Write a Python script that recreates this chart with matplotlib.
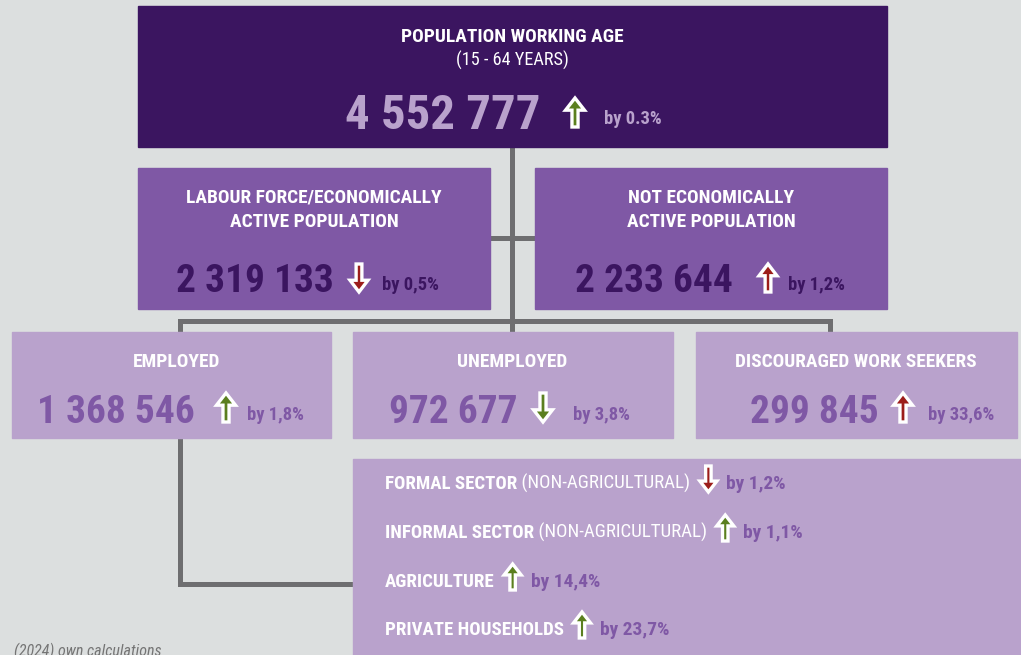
import os
import matplotlib
matplotlib.use('Agg')
import matplotlib.pyplot as plt
from matplotlib import font_manager as fm
from matplotlib.patches import Rectangle, Polygon

BG = '#dcdfdf'
DARK = '#3b1560'
MID = '#7f58a5'
LIGHT = '#b9a2cc'
LINE = '#6e6e70'
GOOD = '#5b7f1f'
BAD = '#9c1d1a'

# data
top_title = 'POPULATION WORKING AGE'
top_sub = '(15 - 64 YEARS)'
top_value = '4 552 777'
top_dir = 'up'
top_tone = 'good'
top_change = 'by 0.3%'

mid_titles = ['LABOUR FORCE/ECONOMICALLY\nACTIVE POPULATION', 'NOT ECONOMICALLY\nACTIVE POPULATION']
mid_values = ['2 319 133', '2 233 644']
mid_dirs = ['down', 'up']
mid_tones = ['bad', 'bad']
mid_changes = ['by 0,5%', 'by 1,2%']

low_titles = ['EMPLOYED', 'UNEMPLOYED', 'DISCOURAGED WORK SEEKERS']
low_values = ['1 368 546', '972 677', '299 845']
low_dirs = ['up', 'down', 'up']
low_tones = ['good', 'good', 'bad']
low_changes = ['by 1,8%', 'by 3,8%', 'by 33,6%']

sector_names = ['FORMAL SECTOR', 'INFORMAL SECTOR', 'AGRICULTURE', 'PRIVATE HOUSEHOLDS']
sector_notes = [' (NON-AGRICULTURAL)', ' (NON-AGRICULTURAL)', '', '']
sector_dirs = ['down', 'up', 'up', 'up']
sector_tones = ['bad', 'good', 'good', 'good']
sector_changes = ['by 1,2%', 'by 1,1%', 'by 14,4%', 'by 23,7%']

source_note = '(2024) own calculations'

tone_col = {'good': GOOD, 'bad': BAD}

# look for a condensed face, else plain Roboto
files = {os.path.basename(f.fname): f.fname for f in fm.fontManager.ttflist}
choices = [
    ('LiberationSansNarrow-Bold.ttf', 'LiberationSansNarrow-Regular.ttf', 'LiberationSansNarrow-Italic.ttf'),
    ('RobotoCondensed-Bold.ttf', 'RobotoCondensed-Regular.ttf', 'RobotoCondensed-Italic.ttf'),
    ('NotoSans-CondensedBold.ttf', 'NotoSans-Condensed.ttf', 'NotoSans-CondensedItalic.ttf'),
    ('DejaVuSansCondensed-Bold.ttf', 'DejaVuSansCondensed.ttf', 'DejaVuSansCondensed-Oblique.ttf'),
]
BOLD = dict(family='Roboto', weight='bold')
REG = dict(family='Roboto')
ITAL = dict(family='Roboto', style='italic')
for b, rg, it in choices:
    if b in files and rg in files:
        BOLD = dict(fontproperties=fm.FontProperties(fname=files[b]))
        REG = dict(fontproperties=fm.FontProperties(fname=files[rg]))
        if it in files:
            ITAL = dict(fontproperties=fm.FontProperties(fname=files[it]))
        break

fig = plt.figure(figsize=(10.21, 6.55), dpi=100)
fig.patch.set_facecolor(BG)
ax = fig.add_axes([0, 0, 1, 1])
ax.set_xlim(0, 1021)
ax.set_ylim(655, 0)
ax.axis('off')
r = fig.canvas.get_renderer()


def fit(s, width, font):
    # font size that gives the string the width seen in the reference
    t = ax.text(0, 0, s, fontsize=20, **font)
    w = t.get_window_extent(renderer=r).width
    t.remove()
    return 20 * width / w


def arrow(cx, top, h, w, d, col):
    hh = h * 0.42
    s = w * 0.32
    pts = [(cx, 0), (cx + w / 2, hh), (cx + s / 2, hh), (cx + s / 2, h),
           (cx - s / 2, h), (cx - s / 2, hh), (cx - w / 2, hh)]
    if d == 'down':
        pts = [(x, h - y) for x, y in pts]
    pts = [(x, y + top) for x, y in pts]
    ax.add_patch(Polygon(pts, closed=True, facecolor=col, edgecolor='white',
                         lw=2.4, joinstyle='miter', zorder=5))


def run(x, y, s, **kw):
    t = ax.text(x, y, s, va='baseline', ha='left', zorder=6, **kw)
    bb = t.get_window_extent(renderer=r)
    return ax.transData.inverted().transform((bb.x1, bb.y0))[0]


fs_title = fit('DISCOURAGED WORK SEEKERS', 242, BOLD)
fs_sub = fit(top_sub, 113, REG)
fs_top = fit(top_value, 195, BOLD)
fs_num = fit('1 368 546', 158, BOLD)
fs_by = fit('by 33,6%', 66, BOLD)
fs_sec = fit('FORMAL SECTOR', 132, BOLD)

# connectors
lk = dict(color=LINE, lw=3.6, solid_capstyle='butt', solid_joinstyle='miter', zorder=1)
ax.plot([512, 512], [147, 332], **lk)
ax.plot([490, 535], [237.5, 237.5], **lk)
ax.plot([180, 180, 830, 830], [332, 321, 321, 332], **lk)
ax.plot([180, 180, 353], [438, 584, 584], **lk)

# boxes
ax.add_patch(Rectangle((138, 6), 749, 141, color=DARK, zorder=2))
mid_x = [138, 535]
for x in mid_x:
    ax.add_patch(Rectangle((x, 168), 352, 141, color=MID, zorder=2))
low_x = [(12, 319), (353, 320), (696, 321)]
for x, w in low_x:
    ax.add_patch(Rectangle((x, 332), w, 106, color=LIGHT, zorder=2))
ax.add_patch(Rectangle((353, 459), 668, 200, color=LIGHT, zorder=2))

# top box
ax.text(512, 41.5, top_title, ha='center', va='baseline', color='white',
        fontsize=fs_title, **BOLD)
ax.text(512, 66, top_sub, ha='center', va='baseline', color='white', fontsize=fs_sub, **REG)
ax.text(345, 129, top_value, ha='left', va='baseline', color=LIGHT, fontsize=fs_top, **BOLD)
arrow(575, 98, 29, 19, top_dir, tone_col[top_tone])
ax.text(604, 124, top_change, ha='left', va='baseline', color=LIGHT, fontsize=fs_by, **BOLD)

# middle boxes
mid_num_x = [176, 575]
mid_arrow_x = [359, 768]
mid_by_x = [382, 788]
for i in range(2):
    cx = mid_x[i] + 176
    l1, l2 = mid_titles[i].split('\n')
    ax.text(cx, 203, l1, ha='center', va='baseline', color='white', fontsize=fs_title, **BOLD)
    ax.text(cx, 227, l2, ha='center', va='baseline', color='white', fontsize=fs_title, **BOLD)
    ax.text(mid_num_x[i], 292.5, mid_values[i], ha='left', va='baseline', color=DARK,
            fontsize=fs_num, **BOLD)
    arrow(mid_arrow_x[i], 264, 28, 18, mid_dirs[i], tone_col[mid_tones[i]])
    ax.text(mid_by_x[i], 290, mid_changes[i], ha='left', va='baseline', color=DARK,
            fontsize=fs_by, **BOLD)

# lower boxes
low_title_x = [177, 512.5, 856]
low_num_x = [37, 389, 750]
low_arrow_x = [226, 543, 903]
low_by_x = [247, 573, 928]
for i in range(3):
    ax.text(low_title_x[i], 367, low_titles[i], ha='center', va='baseline', color='white',
            fontsize=fs_title, **BOLD)
    ax.text(low_num_x[i], 423, low_values[i], ha='left', va='baseline', color=MID,
            fontsize=fs_num, **BOLD)
    arrow(low_arrow_x[i], 393, 29, 19, low_dirs[i], tone_col[low_tones[i]])
    ax.text(low_by_x[i], 420, low_changes[i], ha='left', va='baseline', color=MID,
            fontsize=fs_by, **BOLD)

# sector list
row_y = [489, 538, 587, 635]
for i in range(4):
    x = run(385, row_y[i], sector_names[i], color='white', fontsize=fs_sec, **BOLD)
    if sector_notes[i]:
        x = run(x, row_y[i], sector_notes[i], color='white', fontsize=fs_sec, **REG)
    arrow(x + 18, row_y[i] - 23, 26, 17, sector_dirs[i], tone_col[sector_tones[i]])
    run(x + 36, row_y[i], sector_changes[i], color=MID, fontsize=fs_by * 1.05, **BOLD)

ax.text(162, 656, source_note, ha='right', va='baseline', color='#747474',
        fontsize=11.5, **ITAL)

fig.savefig('out.png', dpi=100, facecolor=BG)
